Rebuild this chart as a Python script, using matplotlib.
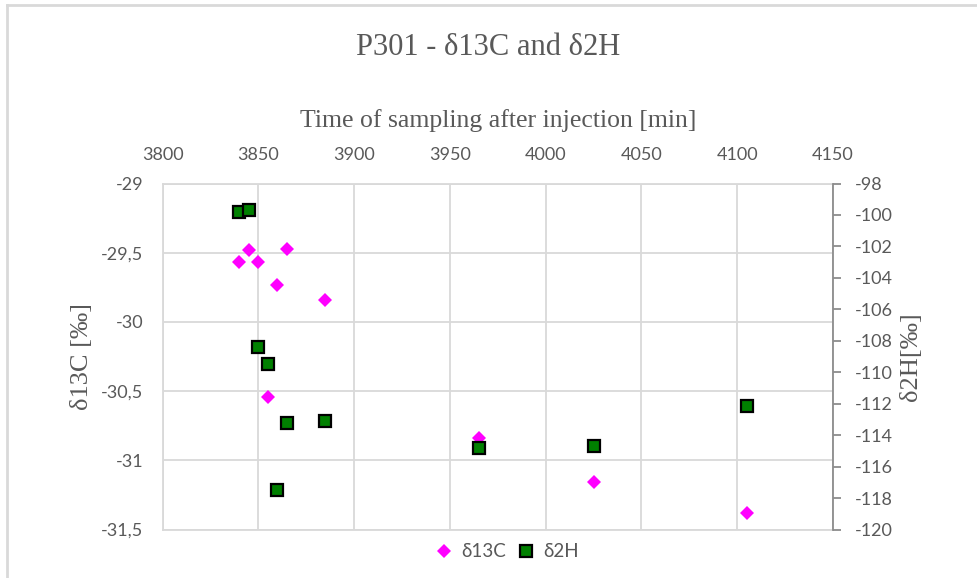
import matplotlib.pyplot as plt
from matplotlib.lines import Line2D
from matplotlib.ticker import FuncFormatter

# sampling times [min] and isotope values
time_min = [3840, 3845, 3850, 3855, 3860, 3865, 3885, 3965, 4025, 4105]
d13c = [-29.565, -29.48, -29.565, -30.54, -29.73, -29.47, -29.84, -30.84, -31.16, -31.38]
d2h = [-99.79, -99.67, -108.37, -109.49, -117.5, -113.2, -113.08, -114.8, -114.67, -112.14]

x_ticks = list(range(3800, 4151, 50))
left_ticks = [-31.5, -31.0, -30.5, -30.0, -29.5, -29.0]
right_ticks = list(range(-120, -97, 2))

GRID = "#d9d9d9"
TXT = "#595959"
SERIF = "Liberation Serif"
SANS = "Lato"

plt.rcParams["axes.unicode_minus"] = False

fig = plt.figure(figsize=(9.78, 5.78), dpi=100)
ax = fig.add_axes([0.1662, 0.0839, 0.6855, 0.5986])
ax2 = ax.twinx()

ax.plot(time_min, d13c, linestyle="none", marker="D", markersize=7.5,
        color="#ff00ff", markeredgewidth=0)
ax2.plot(time_min, d2h, linestyle="none", marker="s", markersize=8,
         markerfacecolor="#008000", markeredgecolor="black", markeredgewidth=1.6)

ax.set_xlim(3800, 4150)
ax.set_ylim(-31.5, -29)
ax2.set_ylim(-120, -98)
ax.set_xticks(x_ticks)
ax.set_yticks(left_ticks)
ax2.set_yticks(right_ticks)

ax.xaxis.tick_top()
ax.xaxis.set_label_position("top")
ax.yaxis.set_major_formatter(FuncFormatter(lambda v, p: f"{v:g}".replace(".", ",")))

ax.grid(True, color=GRID, linewidth=1.3)
ax.set_axisbelow(True)
for side in ["left", "top", "bottom"]:
    ax.spines[side].set_color(GRID)
    ax.spines[side].set_linewidth(1.3)
ax.spines["right"].set_visible(False)
for side in ["left", "top", "bottom"]:
    ax2.spines[side].set_visible(False)
ax2.spines["right"].set_color("#8c8c8c")
ax2.spines["right"].set_linewidth(1.3)

ax.tick_params(axis="x", length=0, pad=15, labelsize=13, labelcolor=TXT)
ax.tick_params(axis="y", length=0, pad=14, labelsize=13, labelcolor=TXT)
ax2.tick_params(axis="y", length=6, width=1.3, color="#8c8c8c", pad=10,
                labelsize=13, labelcolor=TXT, direction="out")
for lbl in ax.get_xticklabels() + ax.get_yticklabels() + ax2.get_yticklabels():
    lbl.set_fontfamily(SANS)

ax.set_xlabel("Time of sampling after injection [min]", fontsize=18.5,
              family=SERIF, color=TXT, labelpad=14)
ax.set_ylabel("δ13C [‰]", fontsize=19, family=SERIF, color=TXT, labelpad=6)
ax2.set_ylabel("δ2H[‰]", fontsize=19, family=SERIF, color=TXT,
               rotation=90, labelpad=5)

fig.text(0.499, 0.918, "P301 - δ13C and δ2H", ha="center", va="center",
         fontsize=22, family=SERIF, color=TXT)

handles = [
    Line2D([], [], linestyle="none", marker="D", markersize=7.5,
           color="#ff00ff", markeredgewidth=0, label="δ13C"),
    Line2D([], [], linestyle="none", marker="s", markersize=8,
           markerfacecolor="#008000", markeredgecolor="black",
           markeredgewidth=1.6, label="δ2H"),
]
fig.legend(handles=handles, loc="center", bbox_to_anchor=(0.518, 0.045),
           ncol=2, frameon=False, handlelength=1.0, handletextpad=0.4,
           columnspacing=0.6, prop={"family": SANS, "size": 13.5},
           labelcolor=TXT)

# outer chart frame (top and left edges visible in the screenshot)
fig.add_artist(Line2D([0.0072, 1.0], [0.991, 0.991], transform=fig.transFigure,
                      color=GRID, linewidth=2))
fig.add_artist(Line2D([0.0072, 0.0072], [0.0, 0.991], transform=fig.transFigure,
                      color=GRID, linewidth=2))

fig.savefig("out.png", dpi=100)
